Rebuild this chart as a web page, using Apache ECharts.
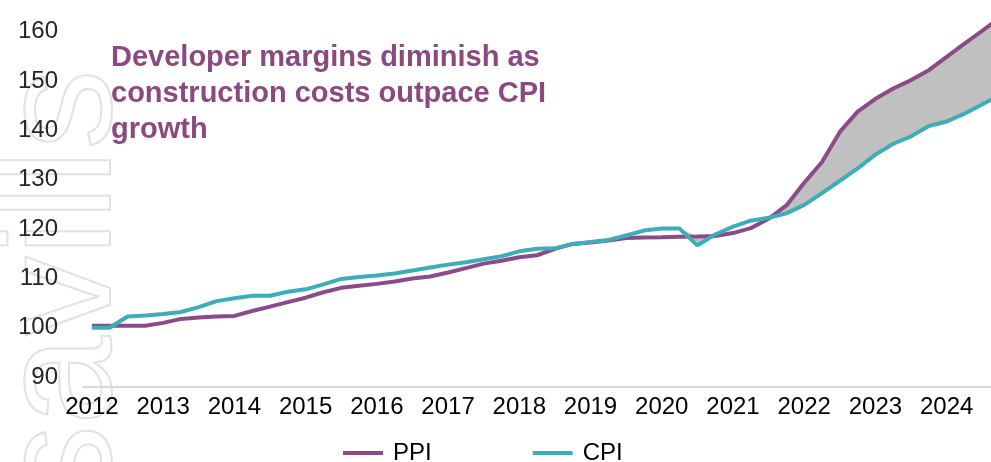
<!DOCTYPE html>
<html>
<head>
<meta charset="utf-8">
<script src="https://cdn.jsdelivr.net/npm/echarts@6/dist/echarts.min.js"></script>
<style>
    html, body { margin: 0; padding: 0; background: #fff; overflow: hidden; }
    #main { width: 1010px; height: 462px; }
</style>
</head>
<body>
<div id="main"></div>
<script>
// quarterly index, 2012 Q1 = 100
var quarters = [
    '2012Q1','2012Q2','2012Q3','2012Q4','2013Q1','2013Q2','2013Q3','2013Q4',
    '2014Q1','2014Q2','2014Q3','2014Q4','2015Q1','2015Q2','2015Q3','2015Q4',
    '2016Q1','2016Q2','2016Q3','2016Q4','2017Q1','2017Q2','2017Q3','2017Q4',
    '2018Q1','2018Q2','2018Q3','2018Q4','2019Q1','2019Q2','2019Q3','2019Q4',
    '2020Q1','2020Q2','2020Q3','2020Q4','2021Q1','2021Q2','2021Q3','2021Q4',
    '2022Q1','2022Q2','2022Q3','2022Q4','2023Q1','2023Q2','2023Q3','2023Q4',
    '2024Q1','2024Q2','2024Q3','2024Q4'
];
var ppi = [
    100.4, 100.4, 100.4, 100.4, 101.0, 101.8, 102.1, 102.3,
    102.4, 103.4, 104.3, 105.2, 106.1, 107.2, 108.1, 108.5,
    108.9, 109.4, 110.0, 110.4, 111.2, 112.1, 113.0, 113.6,
    114.3, 114.7, 116.0, 117.0, 117.3, 117.7, 118.2, 118.3,
    118.35, 118.45, 118.5, 118.6, 119.2, 120.2, 122.1, 124.8,
    129.4, 133.6, 139.7, 143.8, 146.4, 148.5, 150.2, 152.2,
    154.9, 157.6, 160.2, 162.9
];
var cpi = [
    100.0, 100.0, 102.3, 102.5, 102.8, 103.2, 104.2, 105.4,
    106.0, 106.5, 106.5, 107.3, 107.8, 108.8, 109.9, 110.3,
    110.6, 111.0, 111.6, 112.2, 112.8, 113.3, 113.9, 114.5,
    115.5, 116.0, 116.1, 117.0, 117.4, 117.8, 118.7, 119.7,
    120.1, 120.1, 116.7, 118.9, 120.5, 121.7, 122.3, 123.2,
    124.9, 127.3, 129.8, 132.3, 135.1, 137.3, 138.8, 140.9,
    141.8, 143.4, 145.3, 147.2
];
var yLabels = [90, 100, 110, 120, 130, 140, 150, 160];
var titleText = 'Developer margins diminish as\nconstruction costs outpace CPI\ngrowth';

// gap between the two lines, shaded only where PPI is above CPI
var gap = [];
for (var i = 0; i < ppi.length; i++) {
    gap.push(Math.max(ppi[i] - cpi[i], 0));
}

var ppiColor = '#8B4B87';
var cpiColor = '#3EADBA';
var font = 'Liberation Sans, Arial, sans-serif';

var myChart = echarts.init(document.getElementById('main'));
var option = {
    animation: false,
    backgroundColor: '#fff',
    title: {
        text: titleText,
        left: 106,
        top: 35,
        textStyle: {
            color: '#8A4A80',
            fontFamily: font,
            fontWeight: 'bold',
            fontSize: 29,
            lineHeight: 36
        }
    },
    graphic: [{
        // faint logo watermark down the left edge
        type: 'text',
        z: -10,
        silent: true,
        x: -14,
        y: 505,
        rotation: Math.PI / 2,
        style: {
            text: 'savills',
            font: '160px Liberation Sans, Arial, sans-serif',
            fill: 'rgba(0,0,0,0)',
            stroke: '#E2E2E2',
            lineWidth: 2
        }
    }],
    legend: {
        left: 338,
        top: 436,
        icon: 'rect',
        itemWidth: 40,
        itemHeight: 4,
        itemGap: 101,
        data: ['PPI', 'CPI'],
        textStyle: {
            color: '#000',
            fontFamily: font,
            fontSize: 24,
            padding: [0, 0, 0, 5]
        }
    },
    grid: {
        left: 83,
        top: 12,
        width: 926,
        height: 375
    },
    xAxis: {
        type: 'category',
        boundaryGap: true,
        data: quarters,
        axisLine: { lineStyle: { color: '#D9D9D9', width: 2 } },
        axisTick: { show: false },
        axisLabel: {
            interval: 3,
            margin: 8,
            color: '#000',
            fontFamily: font,
            fontSize: 24,
            formatter: function (v) { return v.slice(0, 4); }
        }
    },
    yAxis: {
        type: 'value',
        min: 88,
        max: 164,
        interval: 2,
        axisLine: { show: false },
        axisTick: { show: false },
        splitLine: { show: false },
        axisLabel: {
            margin: 25,
            color: '#262626',
            fontFamily: font,
            fontSize: 24,
            formatter: function (v) {
                return yLabels.indexOf(v) >= 0 ? String(v) : '';
            }
        }
    },
    series: [
        {
            name: 'base',
            type: 'line',
            stack: 'band',
            data: cpi,
            symbol: 'none',
            lineStyle: { opacity: 0 },
            silent: true,
            z: 1
        },
        {
            name: 'gap',
            type: 'line',
            stack: 'band',
            data: gap,
            symbol: 'none',
            lineStyle: { opacity: 0 },
            areaStyle: { color: '#C0C0C0', opacity: 1 },
            silent: true,
            z: 1
        },
        {
            name: 'PPI',
            type: 'line',
            data: ppi,
            symbol: 'none',
            color: ppiColor,
            lineStyle: { color: ppiColor, width: 4 },
            z: 3
        },
        {
            name: 'CPI',
            type: 'line',
            data: cpi,
            symbol: 'none',
            color: cpiColor,
            lineStyle: { color: cpiColor, width: 4 },
            z: 4
        }
    ]
};
myChart.setOption(option);
</script>
</body>
</html>
